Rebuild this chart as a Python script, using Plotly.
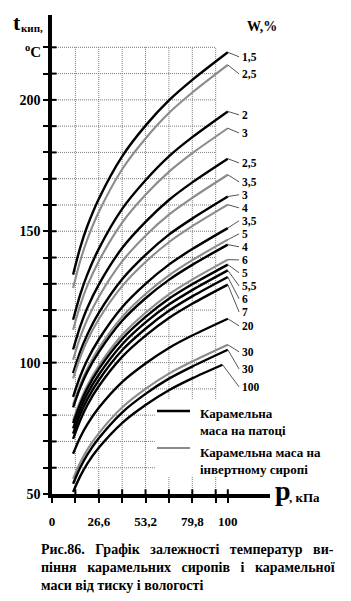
import plotly.graph_objects as go

# ---------------- data ----------------
p_kpa = [12, 16, 20, 26.6, 40, 53.2, 66.5, 80, 100]
p_kpa_100 = [12, 16, 20, 26.6, 40, 53.2, 66.5, 80, 97]

t_pat_1_5 = [133.5, 143.7, 151.8, 162.3, 178.6, 190.2, 199.8, 207.7, 218.1]
t_inv_2_5 = [128.4, 138.6, 146.7, 157.3, 173.7, 185.3, 195.0, 202.9, 213.3]
t_pat_2 = [116.3, 125.8, 133.4, 143.3, 158.6, 169.4, 178.5, 185.9, 195.6]
t_inv_3 = [112.5, 121.7, 129.1, 138.6, 153.4, 163.9, 172.6, 179.8, 189.2]
t_pat_2_5 = [105.0, 113.7, 120.7, 129.7, 143.7, 153.6, 161.9, 168.7, 177.6]
t_inv_3_5 = [101.1, 109.6, 116.3, 125.0, 138.6, 148.3, 156.3, 162.8, 171.5]
t_pat_3 = [96.0, 104.1, 110.5, 118.9, 131.8, 141.0, 148.7, 154.9, 163.2]
t_inv_4 = [94.0, 101.9, 108.3, 116.5, 129.2, 138.3, 145.8, 152.0, 160.1]
t_pat_3_5 = [87.0, 94.7, 100.9, 108.8, 121.2, 130.0, 137.3, 143.3, 151.2]
t_inv_5 = [84.0, 91.5, 97.6, 105.4, 117.5, 126.1, 133.2, 139.1, 146.8]
t_pat_4 = [83.0, 90.4, 96.4, 104.0, 116.0, 124.5, 131.5, 137.3, 144.9]
t_inv_6 = [78.0, 85.3, 91.2, 98.8, 110.6, 119.0, 126.0, 131.7, 139.2]
t_pat_5 = [77.0, 84.2, 90.0, 97.5, 109.1, 117.4, 124.3, 129.9, 137.3]
t_pat_5_5 = [75.0, 82.2, 88.0, 95.4, 107.0, 115.3, 122.1, 127.7, 135.1]
t_pat_6 = [73.0, 80.2, 85.9, 93.3, 104.8, 112.9, 119.7, 125.3, 132.6]
t_pat_7 = [71.0, 78.0, 83.7, 91.0, 102.3, 110.3, 117.0, 122.5, 129.7]
t_pat_20 = [65.3, 71.5, 76.4, 82.8, 92.7, 99.7, 105.6, 110.4, 116.7]
t_inv_30 = [55.8, 61.9, 66.8, 73.1, 83.0, 90.0, 95.8, 100.5, 106.8]
t_pat_30 = [53.9, 60.0, 64.9, 71.2, 81.1, 88.1, 93.9, 98.6, 104.9]
t_pat_100 = [50.8, 56.7, 61.5, 67.6, 77.1, 83.9, 89.5, 94.1, 99.2]

w_labels = ["1,5", "2,5", "2", "3", "2,5", "3,5", "3", "4", "3,5", "5",
            "4", "6", "5", "5,5", "6", "7", "20", "30", "30", "100"]
mass_type = ["pat", "inv", "pat", "inv", "pat", "inv", "pat", "inv", "pat", "inv",
             "pat", "inv", "pat", "pat", "pat", "pat", "pat", "inv", "pat", "pat"]
series = [t_pat_1_5, t_inv_2_5, t_pat_2, t_inv_3, t_pat_2_5, t_inv_3_5, t_pat_3,
          t_inv_4, t_pat_3_5, t_inv_5, t_pat_4, t_inv_6, t_pat_5, t_pat_5_5,
          t_pat_6, t_pat_7, t_pat_20, t_inv_30, t_pat_30, t_pat_100]

x_label_vals = [0, 26.6, 53.2, 79.8, 100]
x_label_text = ["0", "26,6", "53,2", "79,8", "100"]
x_minor_vals = [13.3, 39.9, 66.5, 93.1]
y_label_vals = [50, 100, 150, 200]
y_label_text = ["50", "100", "150", "200"]
y_minor_vals = [60, 70, 80, 90, 110, 120, 130, 140, 160, 170, 180, 190, 210, 220]

legend_pat = "Карамельна<br>маса на патоці"
legend_inv = "Карамельна маса на<br>інвертному сиропі"

# ---------------- layout helpers ----------------
W, H = 351, 601
ML, MR, MT, MB = 52, 81, 15, 107
X0, X1 = 0, 124
Y0, Y1 = 50, 232.3
FONT = "Liberation Serif"
BLACK = "#000000"
GREY = "#8c8c8c"
GRID = "#7a7a7a"
label_y = [216.4, 209.9, 194.3, 187.4, 176.0, 168.8, 163.9, 158.9, 154.0, 149.0,
           144.1, 139.1, 134.2, 129.2, 124.3, 119.3, 114.0, 104.1, 97.6, 90.8]
label_x = 107.0
grid_x_end = 93.1
grid_y_end = 220
legend_gap_x = 58.5       # kPa where the legend box starts
legend_gap_t = (56.5, 86.2)

grid_x = sorted(x_minor_vals + x_label_vals[1:4])          # 13.3 ... 93.1
grid_y = sorted(y_minor_vals + y_label_vals[1:])            # 60 ... 220


def px(x):
    return (x - ML) / (W - ML - MR)


def py(y):
    return (H - MB - y) / (H - MT - MB)


fig = go.Figure()

# grid as dotted line traces (limited extent, hidden behind the legend box)
gx_list, gy_list = [], []
for gy in grid_y:
    if legend_gap_t[0] < gy < legend_gap_t[1]:
        gx_list += [0, legend_gap_x, None]
    else:
        gx_list += [0, grid_x_end, None]
    gy_list += [gy, gy, None]
for gx in grid_x:
    if gx > legend_gap_x:
        gx_list += [gx, gx, None, gx, gx, None]
        gy_list += [50, legend_gap_t[0], None, legend_gap_t[1], grid_y_end, None]
    else:
        gx_list += [gx, gx, None]
        gy_list += [50, grid_y_end, None]
fig.add_trace(go.Scatter(x=gx_list, y=gy_list, mode="lines", connectgaps=False,
                         line=dict(color=GRID, width=1, dash="1px,1px"),
                         showlegend=False, hoverinfo="skip"))

# inner halves of the crossing tick marks
tx, ty = [], []
for gy in grid_y:
    tx += [0, 2.6, None]
    ty += [gy, gy, None]
for gx in grid_x + [100]:
    tx += [gx, gx, None]
    ty += [50, 51.8, None]
fig.add_trace(go.Scatter(x=tx, y=ty, mode="lines", line=dict(color=BLACK, width=2),
                         showlegend=False, hoverinfo="skip"))

annotations = []
lead_x, lead_y = [], []
for vals, lab, kind, ly in zip(series, w_labels, mass_type, label_y):
    xs = p_kpa_100 if vals is t_pat_100 else p_kpa
    col = BLACK if kind == "pat" else GREY
    fig.add_trace(go.Scatter(x=xs, y=vals, mode="lines",
                             line=dict(color=col, width=2.4 if kind == "pat" else 2.1,
                                       shape="spline", smoothing=0.8),
                             showlegend=False, hoverinfo="skip"))
    lead_x += [xs[-1], label_x - 0.6, None]
    lead_y += [vals[-1], ly, None]
    annotations.append(dict(x=label_x, y=ly, xref="x", yref="y", text="<b>" + lab + "</b>",
                            showarrow=False, xanchor="left", yanchor="middle",
                            font=dict(family=FONT, size=11.5, color=BLACK)))
fig.add_trace(go.Scatter(x=lead_x, y=lead_y, mode="lines", line=dict(color="#555555", width=1),
                         showlegend=False, hoverinfo="skip", cliponaxis=False))

shapes = []
# legend (drawn)
shapes.append(dict(type="line", xref="paper", yref="paper", x0=px(157), x1=px(190), y0=py(411), y1=py(411),
                   line=dict(color=BLACK, width=2.4)))
shapes.append(dict(type="line", xref="paper", yref="paper", x0=px(157), x1=px(190), y0=py(448), y1=py(448),
                   line=dict(color=GREY, width=2.1)))
annotations.append(dict(x=px(198), y=py(404), xref="paper", yref="paper", text="<b>" + legend_pat + "</b>",
                        showarrow=False, xanchor="left", yanchor="top", align="left",
                        font=dict(family=FONT, size=13, color=BLACK)))
annotations.append(dict(x=px(198), y=py(443), xref="paper", yref="paper", text="<b>" + legend_inv + "</b>",
                        showarrow=False, xanchor="left", yanchor="top", align="left",
                        font=dict(family=FONT, size=13, color=BLACK)))

# axis titles
annotations += [
    dict(x=px(11), y=py(23), xref="paper", yref="paper", text="<b>t</b>", showarrow=False,
         xanchor="left", yanchor="middle", font=dict(family=FONT, size=22, color=BLACK)),
    dict(x=px(19), y=py(28), xref="paper", yref="paper", text="<b>кип,</b>", showarrow=False,
         xanchor="left", yanchor="middle", font=dict(family=FONT, size=11, color=BLACK)),
    dict(x=px(23), y=py(51), xref="paper", yref="paper", text="<b><sup>o</sup>C</b>", showarrow=False,
         xanchor="left", yanchor="middle", font=dict(family=FONT, size=15, color=BLACK)),
    dict(x=px(262), y=py(26), xref="paper", yref="paper", text="<b>W,%</b>", showarrow=False,
         xanchor="center", yanchor="middle", font=dict(family=FONT, size=14, color=BLACK)),
    dict(x=px(273), y=py(490), xref="paper", yref="paper", text="<b>p</b>", showarrow=False,
         xanchor="left", yanchor="middle", font=dict(family=FONT, size=28, color=BLACK)),
    dict(x=px(287), y=py(498), xref="paper", yref="paper", text="<b>, кПа</b>", showarrow=False,
         xanchor="left", yanchor="middle", font=dict(family=FONT, size=13, color=BLACK)),
]

# caption
G = "\u00a0" * 3
cap_lines = ["Рис.86." + G + "Графік" + G + "залежності" + G + "температур" + G + "ви-",
             "піння" + G + "карамельних" + G + "сиропів" + G + "і" + G + "карамельної",
             "маси від тиску і вологості"]
cap_y = [549, 567, 585]
for txt, cy in zip(cap_lines, cap_y):
    annotations.append(dict(x=px(39), y=py(cy), xref="paper", yref="paper", text="<b>" + txt + "</b>",
                            showarrow=False, xanchor="left", yanchor="middle",
                            font=dict(family=FONT, size=14, color=BLACK)))

fig.update_layout(
    width=W, height=H,
    margin=dict(l=ML, r=MR, t=MT, b=MB, pad=0),
    paper_bgcolor="white", plot_bgcolor="white",
    showlegend=False,
    shapes=shapes, annotations=annotations,
    xaxis=dict(range=[X0, X1], showgrid=False, zeroline=False, showline=True, linecolor=BLACK, linewidth=3.5,
               tickmode="array", tickvals=x_label_vals, ticktext=x_label_text, ticks="outside", ticklen=5,
               tickwidth=2, tickcolor=BLACK, ticklabelstandoff=8, tickangle=0,
               minor=dict(tickmode="array", tickvals=x_minor_vals, ticks="outside", ticklen=5,
                          tickwidth=2, tickcolor=BLACK, showgrid=False),
               tickfont=dict(family=FONT, size=13, color=BLACK, weight="bold")),
    yaxis=dict(range=[Y0, Y1], showgrid=False, zeroline=False, showline=True, linecolor=BLACK, linewidth=3.5,
               tickmode="array", tickvals=y_label_vals, ticktext=y_label_text, ticks="outside", ticklen=5,
               tickwidth=2, tickcolor=BLACK,
               minor=dict(tickmode="array", tickvals=y_minor_vals, ticks="outside", ticklen=5,
                          tickwidth=2, tickcolor=BLACK, showgrid=False),
               tickfont=dict(family=FONT, size=14, color=BLACK, weight="bold")),
)

fig.write_html("out.html")
